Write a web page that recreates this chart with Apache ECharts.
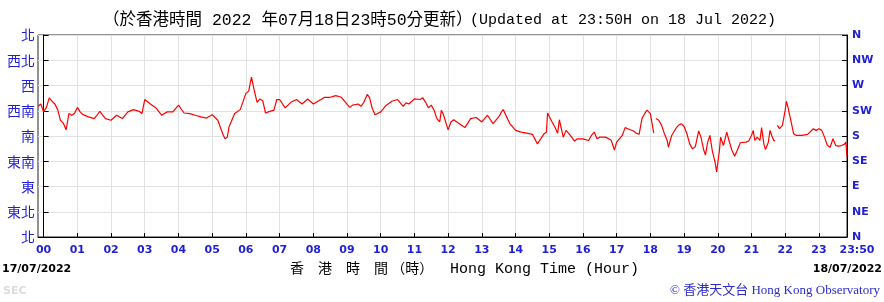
<!DOCTYPE html>
<html><head><meta charset="utf-8">
<script src="https://cdn.jsdelivr.net/npm/echarts@6/dist/echarts.min.js"></script>
<style>html,body{margin:0;padding:0;background:#fff}#c{width:884px;height:302px}</style>
</head><body><div id="c"></div>
<script>
// Time in minutes relative to 00:00 on 18/07/2022 (negative = 17/07/2022)
const minutes = [-10,-5,0,5,10,15,20,25,30,35,40,43,45,50,55,60,65,70,80,90,95,100,110,120,130,140,150,160,170,175,180,190,200,210,220,230,240,250,260,270,280,290,300,310,320,323,327,330,340,350,360,365,370,375,380,385,390,395,400,410,415,420,430,440,450,460,470,480,490,500,510,520,530,540,545,550,560,565,570,576,580,585,590,600,610,620,630,640,645,650,660,670,675,680,685,690,695,700,705,708,712,720,725,730,740,750,760,770,780,790,800,810,815,818,830,840,850,860,870,879,890,895,897,905,910,915,918,925,930,940,945,950,960,970,975,980,985,990,1000,1010,1016,1020,1030,1035,1040,1050,1055,1060,1065,1070,1074,1080,1086,1088,1090,1095,1100,1105,1110,1112,1118,1125,1130,1135,1140,1145,1150,1155,1160,1166,1170,1175,1178,1182,1186,1190,1195,1198,1201,1203,1205,1210,1213,1216,1220,1225,1230,1235,1240,1250,1255,1260,1263,1266,1270,1275,1278,1282,1285,1290,1293,1296,1300,1302,1304,1306,1310,1315,1320,1322,1325,1330,1335,1340,1350,1360,1370,1375,1380,1385,1390,1395,1400,1405,1410,1415,1420,1425,1428,1430];
// Wind direction in degrees (null = missing data)
const direction = [233,237,223,231,248,242,237,227,208,203,191,188,220,217,220,231,223,218,214,211,217,224,211,208,217,211,223,227,224,220,245,237,230,217,223,223,235,221,220,217,214,212,218,208,181,175,178,196,220,227,256,260,285,261,240,246,243,221,223,226,245,245,230,240,245,237,246,237,243,249,249,252,249,237,231,235,237,233,240,254,249,229,218,223,235,242,245,233,239,237,246,245,248,240,230,235,226,211,205,226,217,191,205,209,202,195,211,213,205,217,202,214,223,227,202,190,187,185,183,166,183,187,221,205,196,185,209,178,190,178,171,175,175,172,181,187,175,178,178,173,155,169,181,195,193,189,185,183,211,220,226,220,185,null,211,208,199,184,172,160,181,193,199,202,197,184,166,157,161,189,178,155,146,169,181,155,134,116,119,155,178,163,175,187,172,155,144,155,168,169,171,181,190,172,178,172,195,166,156,169,190,181,171,172,null,199,193,199,226,242,231,208,184,181,181,183,193,190,193,190,178,163,160,175,163,162,163,165,169,143];

const hourTicks = [0,60,120,180,240,300,360,420,480,540,600,660,720,780,840,900,960,1020,1080,1140,1200,1260,1320,1380];
const hourLabels = ['00','01','02','03','04','05','06','07','08','09','10','11','12','13','14','15','16','17','18','19','20','21','22','23'];
const endTick = 1430;
const endLabel = '23:50';
const dirTicks = [0,45,90,135,180,225,270,315,360];
const dirLabelsZh = ['北','東北','東','東南','南','西南','西','西北','北'];
const dirLabelsEn = ['N','NE','E','SE','S','SW','W','NW','N'];

const titleZh = '（於香港時間 2022 年07月18日23時50分更新）';
const titleEn = '(Updated at 23:50H on 18 Jul 2022)';
const startDate = '17/07/2022';
const endDate = '18/07/2022';
const axisTitleZh = '香　港　時　間 （時）';
const axisTitleEn = 'Hong Kong Time (Hour)';
const creditText = '© 香港天文台 Hong Kong Observatory';
const secText = 'SEC';

const seriesData = minutes.map((m, i) => [m, direction[i]]);
const blue = '#1f1fd6';
const lblFont = 'DejaVu Sans, Verdana, sans-serif';

const chart = echarts.init(document.getElementById('c'), null, {renderer: 'canvas'});
chart.setOption({
  animation: false,
  backgroundColor: '#fff',
  grid: {left: 38, right: 37, top: 35, bottom: 65, show: true, borderColor: '#222', borderWidth: 1},
  xAxis: {
    type: 'value', min: -10, max: 1430,
    axisLine: {show: true, lineStyle: {color: '#000', width: 1}},
    axisTick: {show: true, inside: true, length: 4, customValues: hourTicks, lineStyle: {color: '#000'}},
    axisLabel: {
      customValues: hourTicks.concat([endTick]),
      formatter: v => v === endTick ? '{e|' + endLabel + '}' : hourLabels[hourTicks.indexOf(v)],
      color: blue, fontWeight: 'bold', fontSize: 11, fontFamily: lblFont, margin: 8,
      rich: {e: {color: blue, fontWeight: 'bold', fontSize: 11, fontFamily: lblFont, padding: [0, 0, 0, 20]}}
    },
    splitLine: {show: true, lineStyle: {color: '#e2e2e2', width: 1}}
  },
  yAxis: [{
    type: 'value', min: 0, max: 360, interval: 45, position: 'left',
    axisLine: {show: true, lineStyle: {color: '#000'}},
    axisTick: {show: true, inside: true, length: 5, lineStyle: {color: '#000'}},
    axisLabel: {formatter: v => dirLabelsZh[dirTicks.indexOf(v)], color: blue, fontSize: 14,
      fontFamily: 'Noto Sans CJK TC', margin: 3},
    splitLine: {show: true, lineStyle: {color: '#e2e2e2', width: 1}}
  }, {
    type: 'value', min: 0, max: 360, interval: 45, position: 'right',
    axisLine: {show: true, lineStyle: {color: '#000'}},
    axisTick: {show: true, inside: true, length: 5, lineStyle: {color: '#000'}},
    axisLabel: {formatter: v => dirLabelsEn[dirTicks.indexOf(v)], color: blue, fontSize: 11,
      fontWeight: 'bold', fontFamily: lblFont, margin: 5},
    splitLine: {show: false}
  }],
  series: [{
    type: 'line', data: seriesData, yAxisIndex: 0, showSymbol: false, connectNulls: false,
    lineStyle: {color: '#ff0000', width: 1.2}, itemStyle: {color: '#ff0000'}
  }],
  graphic: [
    {type: 'text', left: 103, top: 12, style: {text: titleZh, fill: '#000', font: '16.5px "Liberation Mono", "Noto Sans CJK TC", monospace'}},
    {type: 'text', left: 470, top: 13, style: {text: titleEn, fill: '#000', font: '15px "Liberation Mono", monospace'}},
    {type: 'text', left: 2, top: 264, style: {text: startDate, fill: '#000', font: 'bold 11px "DejaVu Sans", sans-serif'}},
    {type: 'text', right: 2, top: 264, style: {text: endDate, fill: '#000', font: 'bold 11px "DejaVu Sans", sans-serif'}},
    {type: 'text', left: 290, top: 261, style: {text: axisTitleZh, fill: '#000', font: '14px "Noto Sans CJK TC"'}},
    {type: 'text', left: 450, top: 262, style: {text: axisTitleEn, fill: '#000', font: '15px "Liberation Mono", monospace'}},
    {type: 'text', left: 3, top: 286, style: {text: secText, fill: '#dcdcdc', font: 'bold 11px "DejaVu Sans", sans-serif'}},
    {type: 'text', right: 4, top: 284, style: {text: creditText, fill: '#2a2ad0', font: '13px "Liberation Serif", "Noto Sans CJK TC", serif'}}
  ]
});
</script></body></html>
